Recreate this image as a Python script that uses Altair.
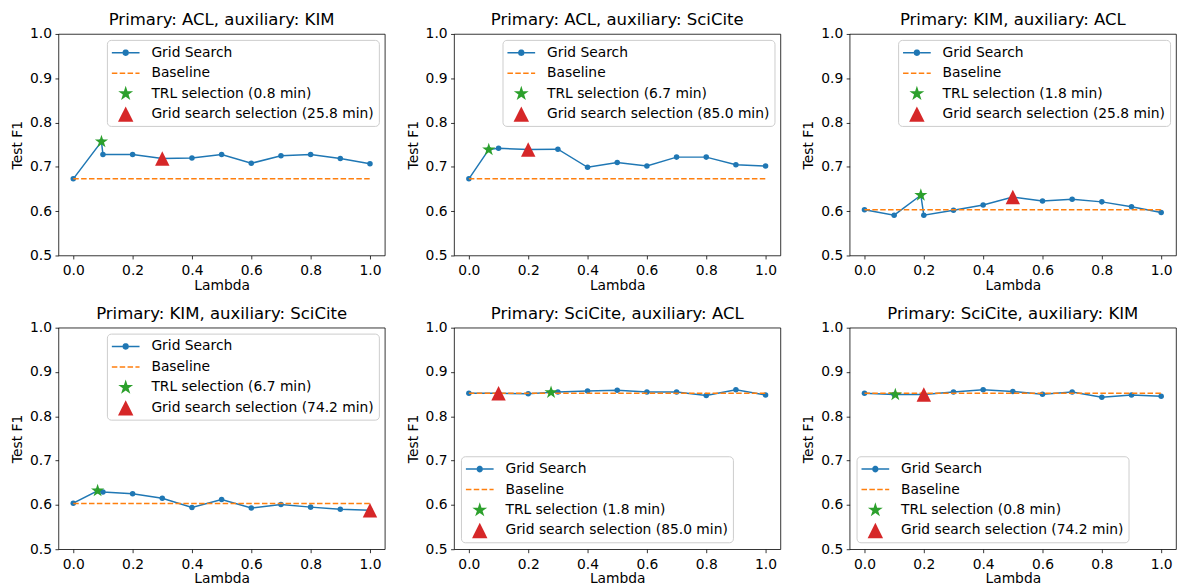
import math
import altair as alt
import pandas as pd

# ---------------- data ----------------
LAMBDAS = [0.0, 0.1, 0.2, 0.3, 0.4, 0.5, 0.6, 0.7, 0.8, 0.9, 1.0]
TITLES = [
    "Primary: ACL, auxiliary: KIM",
    "Primary: ACL, auxiliary: SciCite",
    "Primary: KIM, auxiliary: ACL",
    "Primary: KIM, auxiliary: SciCite",
    "Primary: SciCite, auxiliary: ACL",
    "Primary: SciCite, auxiliary: KIM",
]
GRID_F1_1 = [0.673, 0.728, 0.728, 0.719, 0.720, 0.728, 0.708, 0.725, 0.728, 0.719, 0.707]
GRID_F1_2 = [0.673, 0.742, 0.739, 0.740, 0.699, 0.710, 0.702, 0.722, 0.722, 0.705, 0.702]
GRID_F1_3 = [0.603, 0.591, 0.591, 0.602, 0.614, 0.632, 0.623, 0.627, 0.621, 0.610, 0.597]
GRID_F1_4 = [0.604, 0.629, 0.625, 0.615, 0.594, 0.612, 0.593, 0.601, 0.595, 0.590, 0.588]
GRID_F1_5 = [0.852, 0.852, 0.851, 0.855, 0.857, 0.859, 0.855, 0.855, 0.847, 0.860, 0.848]
GRID_F1_6 = [0.852, 0.849, 0.849, 0.855, 0.860, 0.856, 0.850, 0.855, 0.843, 0.848, 0.845]
GRID_F1 = [GRID_F1_1, GRID_F1_2, GRID_F1_3, GRID_F1_4, GRID_F1_5, GRID_F1_6]
BASELINE_F1 = [0.673, 0.673, 0.603, 0.603, 0.852, 0.852]
TRL_LAMBDA = [0.095, 0.067, 0.19, 0.082, 0.277, 0.104]
TRL_F1 = [0.757, 0.739, 0.636, 0.632, 0.854, 0.849]
TRL_MINUTES = ["0.8", "6.7", "1.8", "6.7", "1.8", "0.8"]
GS_LAMBDA = [0.3, 0.2, 0.5, 1.0, 0.1, 0.2]
GS_MINUTES = ["25.8", "85.0", "25.8", "74.2", "85.0", "74.2"]
LEGEND_CORNER = ["top-right", "top-right", "top-right", "top-right", "bottom-left", "bottom-left"]

X_TICKS = [0.0, 0.2, 0.4, 0.6, 0.8, 1.0]
Y_TICKS = [0.5, 0.6, 0.7, 0.8, 0.9, 1.0]

# ---------------- style ----------------
BLUE, ORANGE, GREEN, RED = "#1f77b4", "#ff7f0e", "#2ca02c", "#d62728"
FONT = "DejaVu Sans"
PANEL_W, PANEL_H = 330, 224
H_SPACING, V_SPACING = 20, 12


def fmt(v):
    return f"{v:.3f}"


def star_path(R, cx=0.0):
    pts = []
    for k in range(10):
        ang = -math.pi / 2 + k * math.pi / 5
        r = R if k % 2 == 0 else R * 0.381966
        pts.append((cx + r * math.cos(ang), r * math.sin(ang)))
    return "M" + " L".join(f"{fmt(x)},{fmt(y)}" for x, y in pts) + " Z"


def rect(x0, x1, h):
    return f"M{fmt(x0)},{fmt(-h)} L{fmt(x1)},{fmt(-h)} L{fmt(x1)},{fmt(h)} L{fmt(x0)},{fmt(h)} Z"


def circle(cx, r):
    return (f"M{fmt(cx - r)},0 A{fmt(r)},{fmt(r)} 0 1,0 {fmt(cx + r)},0 "
            f"A{fmt(r)},{fmt(r)} 0 1,0 {fmt(cx - r)},0 Z")


# legend symbols in units of 9 px (symbolSize 324)
U = 9.0
DX = 6.0 / U
HALF = 14.0 / U
TH = 0.75 / U
CR = 3.2 / U
LEG_LINE = rect(DX - HALF, DX - CR, TH) + " " + rect(DX + CR, DX + HALF, TH) + " " + circle(DX, CR)
DASHES = [(0, 5.55), (7.95, 13.5), (15.9, 21.45), (23.85, 28.0)]
LEG_DASH = " ".join(rect(DX - HALF + a / U, DX - HALF + b / U, TH) for a, b in DASHES)
LEG_STAR = star_path(7.9 / U, DX)
T = 7.8 / U
LEG_TRI = f"M{fmt(DX)},{fmt(-T)} L{fmt(DX + T)},{fmt(T)} L{fmt(DX - T)},{fmt(T)} Z"

PLOT_STAR = star_path(1.0)
PLOT_TRI = "M0,-1 L1,1 L-1,1 Z"

x_scale = alt.Scale(domain=[-0.05, 1.05], nice=False, zero=False)
y_scale = alt.Scale(domain=[0.5, 1.0], nice=False, zero=False)


def x_enc(field):
    return alt.X(f"{field}:Q", scale=x_scale,
                 axis=alt.Axis(values=X_TICKS, format=".1f", title="Lambda"))


def y_enc(field):
    return alt.Y(f"{field}:Q", scale=y_scale,
                 axis=alt.Axis(values=Y_TICKS, format=".1f", title="Test F1"))


def panel(i):
    labels = [
        "Grid Search",
        "Baseline",
        f"TRL selection ({TRL_MINUTES[i]} min)",
        f"Grid search selection ({GS_MINUTES[i]} min)",
    ]
    pts = sorted(zip(LAMBDAS + [TRL_LAMBDA[i]], GRID_F1[i] + [TRL_F1[i]]))
    line_df = pd.DataFrame({"lam": [p[0] for p in pts], "f1": [p[1] for p in pts]})
    base_df = pd.DataFrame({"lam": [LAMBDAS[0]], "lam2": [LAMBDAS[-1]], "f1": [BASELINE_F1[i]]})
    trl_df = pd.DataFrame({"lam": [TRL_LAMBDA[i]], "f1": [TRL_F1[i]]})
    gs_idx = LAMBDAS.index(GS_LAMBDA[i])
    gs_df = pd.DataFrame({"lam": [GS_LAMBDA[i]], "f1": [GRID_F1[i][gs_idx]]})
    key_df = pd.DataFrame({"series": labels, "lam": [None] * 4, "f1": [None] * 4})

    line = alt.Chart(line_df).mark_line(color=BLUE, strokeWidth=1.5).encode(
        x=x_enc("lam"), y=y_enc("f1"))
    dots = alt.Chart(line_df).mark_point(filled=True, color=BLUE, size=31, opacity=1,
                                         shape="circle").encode(x=x_enc("lam"), y=y_enc("f1"))
    base = alt.Chart(base_df).mark_rule(color=ORANGE, strokeWidth=1.5,
                                        strokeDash=[5.55, 2.4]).encode(
        x=x_enc("lam"), x2="lam2", y=y_enc("f1"))
    star = alt.Chart(trl_df).mark_point(filled=True, color=GREEN, size=196, opacity=1,
                                        shape=PLOT_STAR).encode(x=x_enc("lam"), y=y_enc("f1"))
    tri = alt.Chart(gs_df).mark_point(filled=True, color=RED, size=213, opacity=1,
                                      shape=PLOT_TRI).encode(x=x_enc("lam"), y=y_enc("f1"))
    leg = alt.Legend(title=None, orient=LEGEND_CORNER[i],
                     offset=6 if LEGEND_CORNER[i] == "top-right" else 7)
    key = alt.Chart(key_df).mark_point(filled=True, opacity=1).encode(
        x=x_enc("lam"), y=y_enc("f1"),
        color=alt.Color("series:N", sort=labels,
                        scale=alt.Scale(domain=labels, range=[BLUE, ORANGE, GREEN, RED]),
                        legend=leg),
        shape=alt.Shape("series:N", sort=labels,
                        scale=alt.Scale(domain=labels, range=[LEG_LINE, LEG_DASH, LEG_STAR, LEG_TRI]),
                        legend=leg),
    )
    return alt.layer(line, dots, base, star, tri, key).properties(
        width=PANEL_W, height=PANEL_H,
        title=alt.Title(TITLES[i]),
    )


panels = [panel(i) for i in range(6)]
row1 = alt.hconcat(*panels[0:3], spacing=H_SPACING).resolve_scale(
    color="independent", shape="independent").resolve_legend(color="independent", shape="independent")
row2 = alt.hconcat(*panels[3:6], spacing=H_SPACING).resolve_scale(
    color="independent", shape="independent").resolve_legend(color="independent", shape="independent")

chart = alt.vconcat(row1, row2, spacing=V_SPACING).resolve_scale(
    color="independent", shape="independent").resolve_legend(
    color="independent", shape="independent").properties(
    padding={"left": 2, "top": 0, "right": 0, "bottom": 0}
).configure_view(
    stroke="black", strokeWidth=0.8
).configure_axis(
    labelFont=FONT, titleFont=FONT, labelFontSize=14, titleFontSize=14,
    titleFontWeight="normal", labelColor="black", titleColor="black",
    tickColor="black", tickSize=3.5, tickWidth=0.8, labelPadding=3.5,
    domain=False, grid=False, labelFlush=False, labelOverlap=False,
).configure_axisX(titlePadding=1, labelPadding=4.5).configure_axisY(titlePadding=5).configure_title(
    font=FONT, fontSize=16.7, fontWeight="normal", color="black", anchor="middle", offset=-2,
).configure_legend(
    labelFont=FONT, labelFontSize=14, labelColor="black", labelLimit=400,
    padding=4, labelOffset=23, rowPadding=4.7, symbolSize=324, symbolStrokeWidth=0,
    symbolOpacity=1, strokeColor="#cccccc", fillColor="rgba(255,255,255,0.8)",
    cornerRadius=4,
)

chart.save("out.html", embed_options={"renderer": "svg", "actions": False})
